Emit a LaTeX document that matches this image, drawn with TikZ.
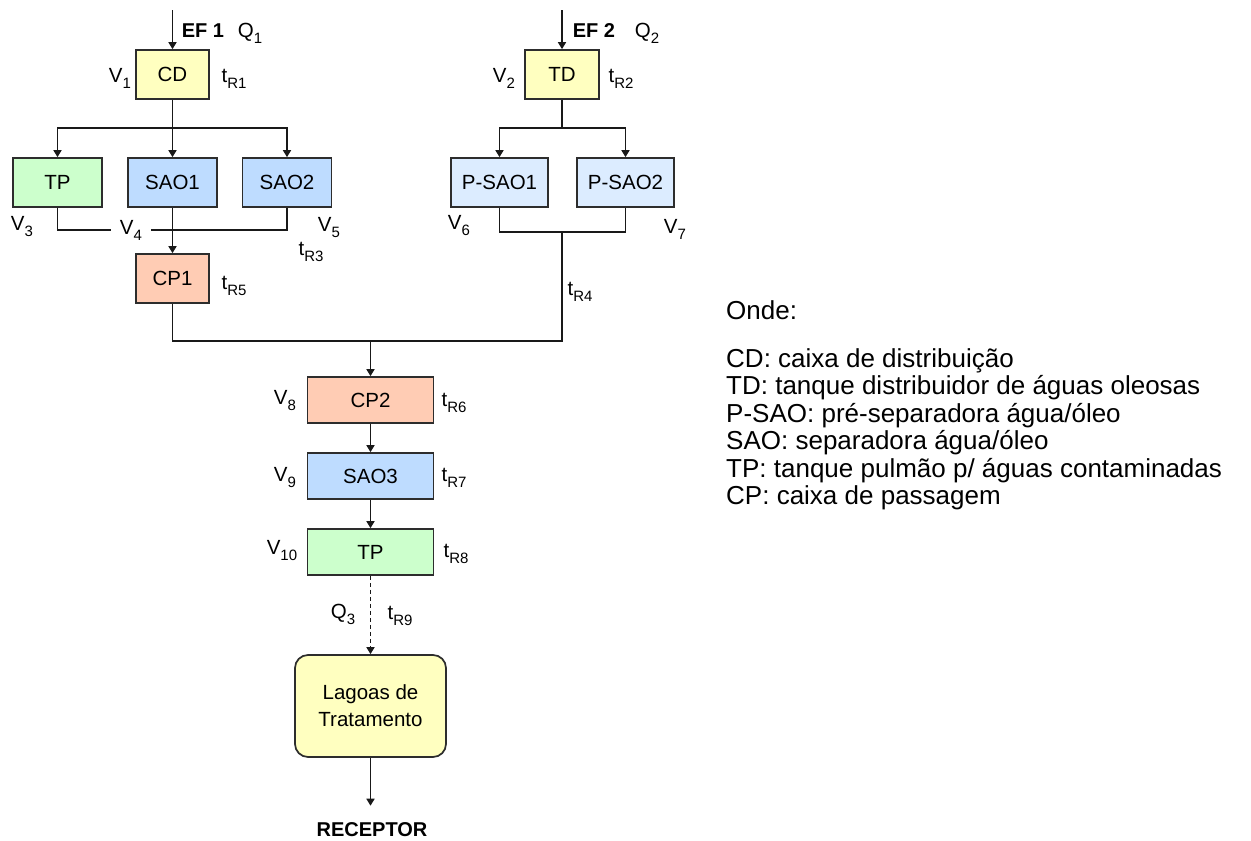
\documentclass[tikz,border=0pt]{standalone}
\usepackage{fontspec}
\setmainfont{Liberation Sans}
\usetikzlibrary{arrows.meta}
\definecolor{yel}{RGB}{255,255,192}
\definecolor{grn}{RGB}{204,255,204}
\definecolor{blu}{RGB}{190,220,255}
\definecolor{pblu}{RGB}{220,236,255}
\definecolor{sal}{RGB}{255,204,180}
\definecolor{brd}{RGB}{45,45,45}
\definecolor{lnc}{RGB}{25,25,25}
\newcommand{\lbsub}[2]{#1\raisebox{-6pt}{\fontsize{15}{15}\selectfont #2}}
\tikzset{
  box/.style={draw=brd, line width=1.7pt, font=\fontsize{20.5}{24}\selectfont, inner sep=0pt, minimum height=49pt},
  bigbox/.style={box, minimum width=126pt, minimum height=46pt},
  lbl/.style={font=\fontsize{20.5}{24}\selectfont, inner sep=0pt},
  bold/.style={font=\fontsize{20}{24}\selectfont\bfseries, inner sep=0pt},
  leg/.style={font=\fontsize{26}{28}\selectfont, inner sep=0pt, anchor=base west},
  ln/.style={draw=lnc, line width=1.6pt},
  arr/.style={ln, -{Triangle[length=7pt,width=8pt]}}
}
\begin{document}
\begin{tikzpicture}[x=1pt,y=-1pt]
\fill[white] (0,0) rectangle (1251,841);
\useasboundingbox (0,0) rectangle (1251,841);

% boxes
\node[box, fill=yel, minimum width=73pt] (CD) at (172.5,74.5) {CD};
\node[box, fill=yel, minimum width=74pt] (TD) at (562,74.5) {TD};
\node[box, fill=grn, minimum width=89pt] (TP1) at (57.5,182.5) {TP};
\node[box, fill=blu, minimum width=89pt] (SAO1) at (172.5,182.5) {SAO1};
\node[box, fill=blu, minimum width=89pt] (SAO2) at (287,182.5) {SAO2};
\node[box, fill=pblu, minimum width=97pt] (PS1) at (499.5,182.5) {P-SAO1};
\node[box, fill=pblu, minimum width=97pt] (PS2) at (625.5,182.5) {P-SAO2};
\node[box, fill=sal, minimum width=73pt] (CP1) at (172.5,278.5) {CP1};
\node[bigbox, fill=sal] (CP2) at (370.5,400) {CP2};
\node[bigbox, fill=blu] (SAO3) at (370.5,476) {SAO3};
\node[bigbox, fill=grn] (TP2) at (370.5,552) {TP};
\node[box, fill=yel, rounded corners=13pt, minimum width=151pt, minimum height=102pt, align=center, font=\fontsize{20.5}{27}\selectfont] (LAG) at (370.5,706) {Lagoas de\\Tratamento};
\node[bold] (REC) at (372,830) {RECEPTOR};

% labels
\node[bold] (ef1) at (203,31) {EF 1};
\node[lbl] (q1) at (250,33) {\lbsub{Q}{1}};
\node[bold] (ef2) at (594,31) {EF 2};
\node[lbl] (q2) at (647,33) {\lbsub{Q}{2}};
\node[lbl] (v1) at (120,78) {\lbsub{V}{1}};
\node[lbl] (tr1) at (234,79) {\lbsub{t}{R1}};
\node[lbl] (v2) at (504,78) {\lbsub{V}{2}};
\node[lbl] (tr2) at (621,79) {\lbsub{t}{R2}};
\node[lbl] (v3) at (22,227) {\lbsub{V}{3}};
\node[lbl, inner xsep=9pt] (v4) at (131,230) {\lbsub{V}{4}};
\node[lbl] (v5) at (329,228) {\lbsub{V}{5}};
\node[lbl] (tr3) at (311,252) {\lbsub{t}{R3}};
\node[lbl] (v6) at (459,226) {\lbsub{V}{6}};
\node[lbl] (v7) at (675,229) {\lbsub{V}{7}};
\node[lbl] (tr5) at (234,286) {\lbsub{t}{R5}};
\node[lbl] (tr4) at (580,292) {\lbsub{t}{R4}};
\node[lbl] (v8) at (285,401) {\lbsub{V}{8}};
\node[lbl] (tr6) at (454,403) {\lbsub{t}{R6}};
\node[lbl] (v9) at (285,478) {\lbsub{V}{9}};
\node[lbl] (tr7) at (454,478) {\lbsub{t}{R7}};
\node[lbl] (v10) at (282,551) {\lbsub{V}{10}};
\node[lbl] (tr8) at (456,554) {\lbsub{t}{R8}};
\node[lbl] (q3) at (343,614) {\lbsub{Q}{3}};
\node[lbl] (tr9) at (400,616) {\lbsub{t}{R9}};

% connectors
\coordinate (in1) at (172.5,10);
\coordinate (in2) at (562,10);
\draw[arr] (in1) -- (CD.north);
\draw[arr] (in2) -- (TD.north);

\coordinate (b1) at (172.5,128);
\draw[ln] (CD.south) -- (b1);
\draw[arr] (b1) -| (TP1.north);
\draw[arr] (b1) -| (SAO2.north);
\draw[arr] (b1) -- (SAO1.north);
\draw[ln] (TP1.south) |- (v4.west);
\draw[ln] (v4.east) -| (SAO2.south);
\draw[arr] (SAO1.south) -- (CP1.north);

\coordinate (b2) at (562,128);
\draw[ln] (TD.south) -- (b2);
\draw[arr] (b2) -| (PS1.north);
\draw[arr] (b2) -| (PS2.north);
\coordinate (j2) at (562,232);
\draw[ln] (PS1.south) |- (j2) -| (PS2.south);

\coordinate (m) at (370.5,341);
\draw[ln] (j2) |- (m);
\draw[ln] (CP1.south) |- (m);
\draw[arr] (m) -- (CP2.north);
\draw[arr] (CP2.south) -- (SAO3.north);
\draw[arr] (SAO3.south) -- (TP2.north);
\draw[arr, dash pattern=on 4pt off 3pt] (TP2.south) -- (LAG.north);
\draw[arr, shorten >=17pt] (LAG.south) -- (REC.north -| LAG.south);

% legend
\node[leg] (onde) at (726,319) {Onde:};
\node[leg] (l1) at (726,367) {CD: caixa de distribuição};
\node[leg] (l2) at (726,394.5) {TD: tanque distribuidor de águas oleosas};
\node[leg] (l3) at (726,422) {P-SAO: pré-separadora água/óleo};
\node[leg] (l4) at (726,449.5) {SAO: separadora água/óleo};
\node[leg] (l5) at (726,477) {TP: tanque pulmão p/ águas contaminadas};
\node[leg] (l6) at (726,504.5) {CP: caixa de passagem};
\end{tikzpicture}
\end{document}
